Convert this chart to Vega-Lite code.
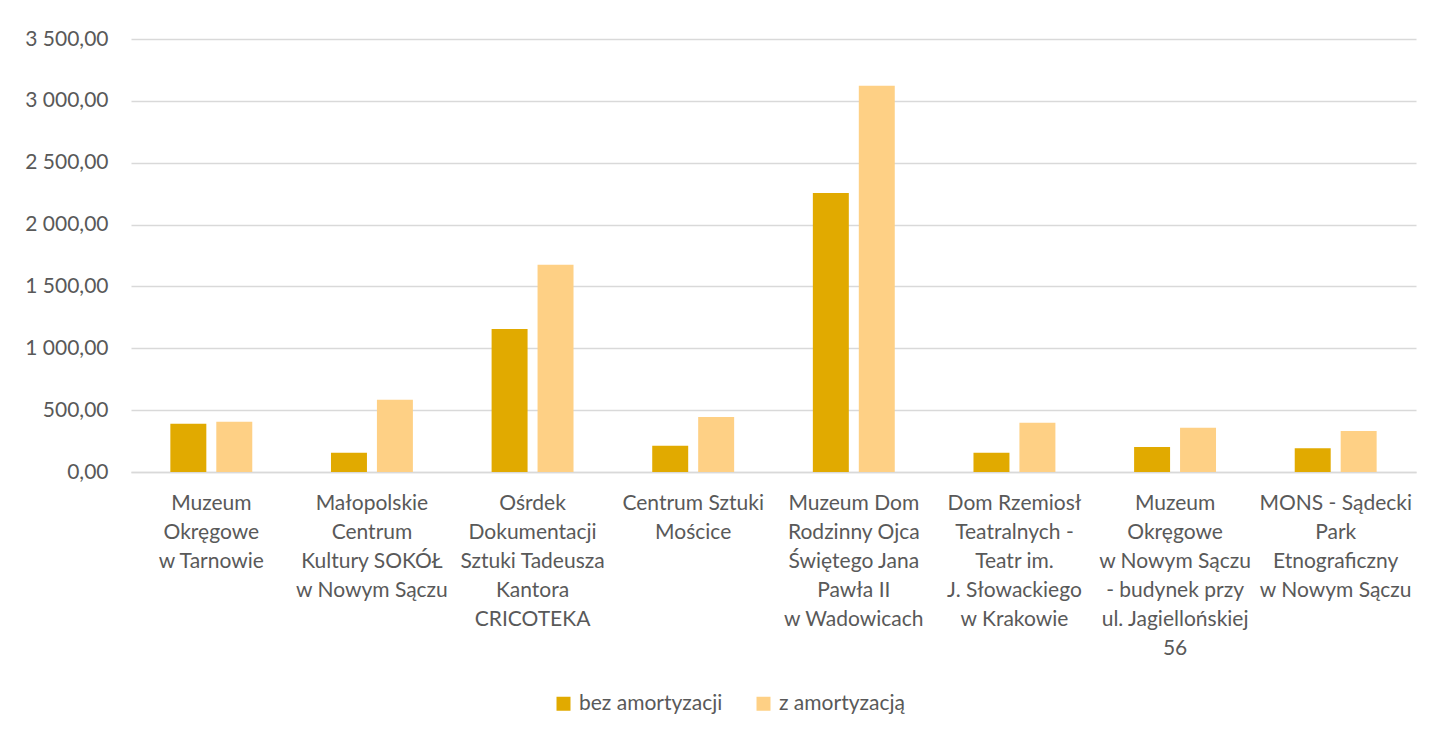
{
  "$schema": "https://vega.github.io/schema/vega-lite/v6.json",
  "width": 1285,
  "height": 433,
  "autosize": {"type": "none"},
  "padding": {"left": 131, "top": 39, "right": 22, "bottom": 263},
  "background": "white",
  "config": {
    "locale": {"number": {"decimal": ",", "thousands": " ", "grouping": [3], "currency": ["", ""]}},
    "font": "Lato",
    "view": {"stroke": null},
    "axis": {"labelFont": "Lato", "labelFontSize": 21, "labelColor": "#595959"},
    "legend": {"labelFont": "Lato", "labelFontSize": 21, "labelColor": "#595959"}
  },
  "data": {
    "values": [
      {"obiekt": "Muzeum|Okręgowe|w Tarnowie", "seria": "bez amortyzacji", "wartosc": 390},
      {"obiekt": "Muzeum|Okręgowe|w Tarnowie", "seria": "z amortyzacją", "wartosc": 407},
      {"obiekt": "Małopolskie|Centrum|Kultury SOKÓŁ|w Nowym Sączu", "seria": "bez amortyzacji", "wartosc": 156},
      {"obiekt": "Małopolskie|Centrum|Kultury SOKÓŁ|w Nowym Sączu", "seria": "z amortyzacją", "wartosc": 584},
      {"obiekt": "Ośrdek|Dokumentacji|Sztuki Tadeusza|Kantora|CRICOTEKA", "seria": "bez amortyzacji", "wartosc": 1156},
      {"obiekt": "Ośrdek|Dokumentacji|Sztuki Tadeusza|Kantora|CRICOTEKA", "seria": "z amortyzacją", "wartosc": 1676},
      {"obiekt": "Centrum Sztuki|Mościce", "seria": "bez amortyzacji", "wartosc": 213},
      {"obiekt": "Centrum Sztuki|Mościce", "seria": "z amortyzacją", "wartosc": 444},
      {"obiekt": "Muzeum Dom|Rodzinny Ojca|Świętego Jana|Pawła II|w Wadowicach", "seria": "bez amortyzacji", "wartosc": 2255},
      {"obiekt": "Muzeum Dom|Rodzinny Ojca|Świętego Jana|Pawła II|w Wadowicach", "seria": "z amortyzacją", "wartosc": 3123},
      {"obiekt": "Dom Rzemiosł|Teatralnych -|Teatr im.|J. Słowackiego|w Krakowie", "seria": "bez amortyzacji", "wartosc": 156},
      {"obiekt": "Dom Rzemiosł|Teatralnych -|Teatr im.|J. Słowackiego|w Krakowie", "seria": "z amortyzacją", "wartosc": 399},
      {"obiekt": "Muzeum|Okręgowe|w Nowym Sączu| - budynek przy|ul. Jagiellońskiej|56", "seria": "bez amortyzacji", "wartosc": 202},
      {"obiekt": "Muzeum|Okręgowe|w Nowym Sączu| - budynek przy|ul. Jagiellońskiej|56", "seria": "z amortyzacją", "wartosc": 358},
      {"obiekt": "MONS - Sądecki|Park|Etnograficzny|w Nowym Sączu", "seria": "bez amortyzacji", "wartosc": 191},
      {"obiekt": "MONS - Sądecki|Park|Etnograficzny|w Nowym Sączu", "seria": "z amortyzacją", "wartosc": 331}
    ]
  },
  "mark": {"type": "bar"},
  "encoding": {
    "x": {
      "field": "obiekt",
      "type": "nominal",
      "sort": null,
      "scale": {"paddingInner": 0.49, "paddingOuter": 0.245},
      "axis": {
        "title": null,
        "labelAngle": 0,
        "labelExpr": "split(datum.value, '|')",
        "labelLineHeight": 29,
        "labelBaseline": "top",
        "labelPadding": 20,
        "ticks": false,
        "domain": true,
        "domainColor": "#D9D9D9",
        "domainWidth": 1.3,
        "labelLimit": 200
      }
    },
    "xOffset": {
      "field": "seria",
      "type": "nominal",
      "sort": ["bez amortyzacji", "z amortyzacją"],
      "scale": {"paddingInner": 0.217, "paddingOuter": 0}
    },
    "y": {
      "field": "wartosc",
      "type": "quantitative",
      "scale": {"domain": [0, 3500]},
      "axis": {
        "title": null,
        "values": [0, 500, 1000, 1500, 2000, 2500, 3000, 3500],
        "format": ",.2f",
        "ticks": false,
        "domain": false,
        "gridColor": "#D9D9D9",
        "gridWidth": 1.3,
        "labelPadding": 23
      }
    },
    "color": {
      "field": "seria",
      "type": "nominal",
      "scale": {"domain": ["bez amortyzacji", "z amortyzacją"], "range": ["#E1AA00", "#FED085"]},
      "legend": {
        "title": null,
        "orient": "none",
        "legendX": 422,
        "legendY": 654,
        "direction": "horizontal",
        "symbolType": "square",
        "symbolSize": 196,
        "symbolStrokeWidth": 0,
        "labelOffset": 5,
        "columnPadding": 30
      }
    }
  }
}
